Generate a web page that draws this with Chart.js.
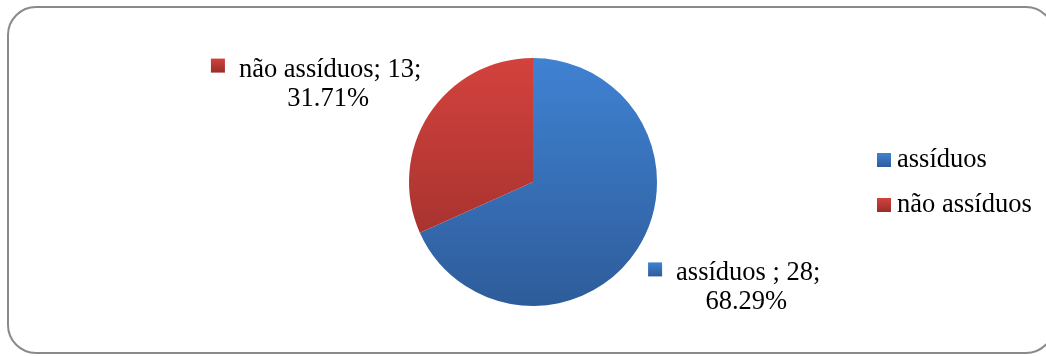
<!DOCTYPE html>
<html>
<head>
<meta charset="utf-8">
<script src="https://cdn.jsdelivr.net/npm/chart.js@4/dist/chart.umd.min.js"></script>
<style>
  html, body { margin: 0; padding: 0; background: #ffffff; }
  #wrap { width: 1046px; height: 356px; position: relative; }
</style>
</head>
<body>
<div id="wrap"><canvas id="pie"></canvas></div>
<script>
// data
var labels = ["assíduos", "não assíduos"];
var counts = [28, 13];
var percents = ["68.29%", "31.71%"];
var dataLabelNames = ["assíduos ", "não assíduos"];

// colours: top / bottom of the vertical shading
var topColors = ["#3f82d2", "#d3423d"];
var bottomColors = ["#2e5c9a", "#972d2a"];

var FONT = "'Liberation Serif', 'Times New Roman', serif";

function shade(ctx, i) {
    var chart = ctx.chart;
    var area = chart.chartArea;
    if (!area) return topColors[i];
    var g = chart.ctx.createLinearGradient(0, area.top, 0, area.bottom);
    g.addColorStop(0, topColors[i]);
    g.addColorStop(1, bottomColors[i]);
    return g;
}

function boxShade(c, y, s, i) {
    var g = c.createLinearGradient(0, y, 0, y + s);
    g.addColorStop(0, topColors[i]);
    g.addColorStop(1, bottomColors[i]);
    return g;
}

//rounded frame behind the chart
var framePlugin = {
    id: "frame",
    beforeDraw: function(chart){
        var c = chart.ctx;
        var x = 8, y = 7, w = 1046, h = 346, r = 28;
        c.save();
        c.beginPath();
        c.moveTo(x + r, y);
        c.lineTo(x + w - r, y);
        c.arcTo(x + w, y, x + w, y + r, r);
        c.lineTo(x + w, y + h - r);
        c.arcTo(x + w, y + h, x + w - r, y + h, r);
        c.lineTo(x + r, y + h);
        c.arcTo(x, y + h, x, y + h - r, r);
        c.lineTo(x, y + r);
        c.arcTo(x, y, x + r, y, r);
        c.closePath();
        c.lineWidth = 2;
        c.strokeStyle = "#8a8a8a";
        c.stroke();
        c.restore();
    }
};

// data labels next to each slice, offsets from the arc's outer mid point
var labelOffsets = [[39, 31], [-190, -38]];
var labelPlugin = {
    id: "sliceLabels",
    afterDatasetsDraw: function(chart){
        var c = chart.ctx;
        var meta = chart.getDatasetMeta(0);
        c.save();
        c.font = "26.5px " + FONT;
        c.fillStyle = "#000000";
        c.textBaseline = "alphabetic";
        meta.data.forEach(function(arc, i){
            var mid = (arc.startAngle + arc.endAngle) / 2;
            var ox = arc.x + Math.cos(mid) * arc.outerRadius;
            var oy = arc.y + Math.sin(mid) * arc.outerRadius;
            var line1 = dataLabelNames[i] + "; " + counts[i] + ";";
            var w1 = c.measureText(line1).width;
            var tx = ox + labelOffsets[i][0];
            var ty = oy + labelOffsets[i][1];
            c.textAlign = "left";
            c.fillText(line1, tx, ty);
            c.fillStyle = boxShade(c, ty - 18, 14, i);
            c.fillRect(tx - 28, ty - 18, 14, 14);
            c.fillStyle = "#000000";
            c.textAlign = "center";
            c.fillText(percents[i], tx + w1 / 2 - 2, ty + 29);
        });
        c.restore();
    }
};

// legend on the right
var legendPlugin = {
    id: "sideLegend",
    afterDraw: function(chart){
        var c = chart.ctx;
        c.save();
        c.font = "26.5px " + FONT;
        c.textAlign = "left";
        c.textBaseline = "alphabetic";
        chart.data.labels.forEach(function(lab, i){
            var y = 167 + i * 45;
            c.fillStyle = boxShade(c, y - 14, 14, i);
            c.fillRect(877, y - 14, 14, 14);
            c.fillStyle = "#000000";
            c.fillText(lab, 897, y);
        });
        c.restore();
    }
};

var ctx = document.getElementById("pie");
var graph = new Chart(ctx, {
    type: "pie",
    data: {
        labels: labels,
        datasets: [{
            data: counts,
            backgroundColor: function(context){ return shade(context, context.dataIndex); },
            borderWidth: 0
        }]
    },
    options: {
        responsive: true,
        maintainAspectRatio: false,
        animation: false,
        layout: { padding: { left: 290, right: 270, top: 58, bottom: 50 } },
        plugins: {
            legend: { display: false },
            tooltip: { enabled: false },
            title: { display: false }
        }
    },
    plugins: [framePlugin, labelPlugin, legendPlugin]
});
</script>
</body>
</html>
